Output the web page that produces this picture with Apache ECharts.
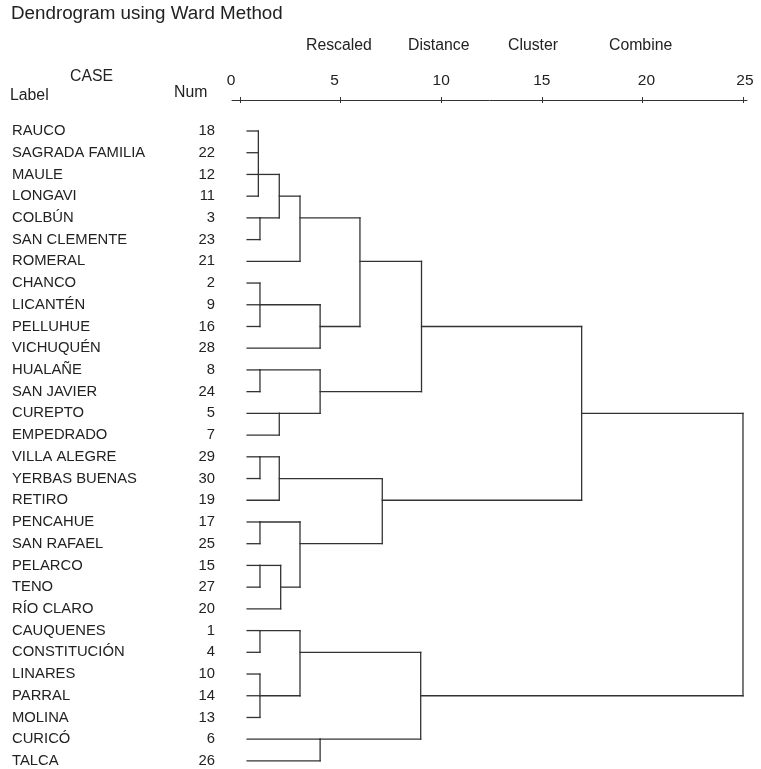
<!DOCTYPE html>
<html>
<head>
<meta charset="utf-8">
<script src="https://cdn.jsdelivr.net/npm/echarts@6/dist/echarts.min.js"></script>
<style>
html,body{margin:0;padding:0;background:#fff;}
#chart{width:761px;height:769px;}
</style>
</head>
<body>
<div id="chart"></div>
<script>
// ---- data ----
const caseNames = ['RAUCO','SAGRADA FAMILIA','MAULE','LONGAVI','COLBÚN','SAN CLEMENTE','ROMERAL','CHANCO','LICANTÉN','PELLUHUE','VICHUQUÉN','HUALAÑE','SAN JAVIER','CUREPTO','EMPEDRADO','VILLA ALEGRE','YERBAS BUENAS','RETIRO','PENCAHUE','SAN RAFAEL','PELARCO','TENO','RÍO CLARO','CAUQUENES','CONSTITUCIÓN','LINARES','PARRAL','MOLINA','CURICÓ','TALCA'];
const caseNums = [18,22,12,11,3,23,21,2,9,16,28,8,24,5,7,29,30,19,17,25,15,27,20,1,4,10,14,13,6,26];
const axisTicks = [0,5,10,15,20,25];
const leafStart = 0.35;
// each merge: children (L# = leaf row, M# = earlier merge), rescaled distance, row of its line
const mergeChildren = [
  ['L0','L1','L2','L3'], ['L4','L5'], ['M0','M1'], ['M2','L6'],
  ['L7','L8','L9'], ['M4','L10'], ['M3','M5'],
  ['L11','L12'], ['L13','L14'], ['M7','M8'], ['M6','M9'],
  ['L15','L16'], ['M11','L17'], ['L18','L19'], ['L20','L21'], ['M14','L22'],
  ['M13','M15'], ['M12','M16'], ['M10','M17'],
  ['L23','L24'], ['L25','L26','L27'], ['M19','M20'], ['L28','L29'], ['M21','M22'],
  ['M18','M23']
];
const mergeHeights = [0.91,0.99,1.95,2.98,0.99,3.98,5.96,0.99,1.95,3.98,9.02,0.99,1.95,0.99,0.99,2.02,2.98,7.07,16.98,0.99,0.99,2.98,3.98,8.98,25];
const mergeRows = [2,4,3,4,8,9,6,11,13,12,9,15,16,18,20,21,19,17,13,23,26,24,28,26,20];

// ---- build segments ----
function nodeRow(id){ return id[0]==='L' ? +id.slice(1) : mergeRows[+id.slice(1)]; }
function nodeStart(id){ return id[0]==='L' ? leafStart : mergeHeights[+id.slice(1)]; }
const segments = [];
mergeChildren.forEach((ch, m) => {
  const h = mergeHeights[m];
  const rows = ch.map(nodeRow);
  ch.forEach(c => segments.push([nodeStart(c), nodeRow(c), h, nodeRow(c)]));
  segments.push([h, Math.min(...rows), h, Math.max(...rows)]);
});

const FONT = "'Liberation Sans', Arial, sans-serif";
const TXT = '#222';
const LINE = '#333';
const rowValues = caseNames.map((_, i) => i);

// small horizontal nudges of the tick labels, as in the original layout
const labelShift = {0:-9, 5:-6, 10:0, 15:0, 20:4, 25:2};
const rich = {};
axisTicks.forEach(t => {
  const d = labelShift[t] || 0;
  rich['t' + t] = {
    fontFamily: FONT, fontSize: 15.5, color: TXT, lineHeight: 15,
    padding: d < 0 ? [0, -2 * d, 0, 0] : [0, 0, 0, 2 * d]
  };
});

const chart = echarts.init(document.getElementById('chart'), null, {renderer: 'canvas'});
const yBase = {
  type: 'value', inverse: true, min: -1.427, max: 29.4, position: 'left',
  axisLine: {show: false}, axisTick: {show: false}, splitLine: {show: false}
};
chart.setOption({
  animation: false,
  backgroundColor: '#fff',
  grid: {left: 232, right: 14, top: 100, height: 669.6, containLabel: false, outerBoundsMode: 'none'},
  xAxis: [
    {
      type: 'value', position: 'top', min: -0.4, max: 25.2,
      axisLine: {show: true, onZero: false, lineStyle: {color: LINE, width: 1}},
      axisTick: {show: true, inside: false, length: 3, customValues: axisTicks, lineStyle: {color: LINE}},
      axisLabel: {
        show: true, margin: 12, customValues: axisTicks,
        formatter: v => '{t' + v + '|' + v + '}', rich: rich
      },
      splitLine: {show: false}
    },
    {
      type: 'value', position: 'top', min: -0.4, max: 25.2, offset: 0,
      axisLine: {show: false, onZero: false},
      axisTick: {show: true, inside: true, length: 3, customValues: axisTicks, lineStyle: {color: LINE}},
      axisLabel: {show: false},
      splitLine: {show: false}
    }
  ],
  yAxis: [
    Object.assign({}, yBase, {
      axisLabel: {
        show: true, customValues: rowValues, align: 'left', margin: 220,
        fontFamily: FONT, fontSize: 14.8, color: TXT,
        formatter: v => caseNames[v]
      }
    }),
    Object.assign({}, yBase, {
      offset: 0,
      axisLabel: {
        show: true, customValues: rowValues, align: 'right', margin: 17,
        fontFamily: FONT, fontSize: 14.8, color: TXT,
        formatter: v => String(caseNums[v])
      }
    })
  ],
  graphic: [
    {type: 'text', left: 11, top: 4, style: {text: 'Dendrogram using Ward Method', font: "18.8px " + FONT, fill: TXT}},
    {type: 'text', left: 306, top: 38, style: {text: 'Rescaled', font: "15.8px " + FONT, fill: TXT}},
    {type: 'text', left: 408, top: 38, style: {text: 'Distance', font: "15.8px " + FONT, fill: TXT}},
    {type: 'text', left: 508, top: 38, style: {text: 'Cluster', font: "15.8px " + FONT, fill: TXT}},
    {type: 'text', left: 609, top: 38, style: {text: 'Combine', font: "15.8px " + FONT, fill: TXT}},
    {type: 'text', left: 70, top: 69, style: {text: 'CASE', font: "15.8px " + FONT, fill: TXT}},
    {type: 'text', left: 10, top: 88, style: {text: 'Label', font: "15.8px " + FONT, fill: TXT}},
    {type: 'text', left: 174, top: 85, style: {text: 'Num', font: "15.8px " + FONT, fill: TXT}}
  ],
  series: [{
    type: 'custom',
    xAxisIndex: 0, yAxisIndex: 0,
    clip: false,
    data: segments,
    encode: {x: [0, 2], y: [1, 3]},
    renderItem: function (params, api) {
      const p1 = api.coord([api.value(0), api.value(1)]);
      const p2 = api.coord([api.value(2), api.value(3)]);
      return {
        type: 'line',
        shape: {x1: p1[0], y1: p1[1], x2: p2[0], y2: p2[1]},
        style: {stroke: LINE, lineWidth: 1.3, lineCap: 'square'}
      };
    }
  }]
});
</script>
</body>
</html>
